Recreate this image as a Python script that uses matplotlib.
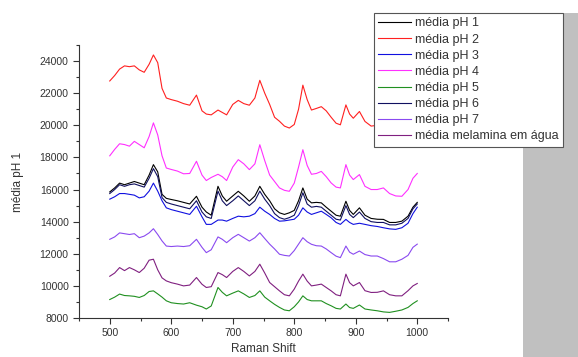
import matplotlib
matplotlib.use("Agg")
import matplotlib.pyplot as plt
from matplotlib.ticker import MultipleLocator
from matplotlib.patches import Rectangle

plt.rcParams['font.family'] = ['Liberation Sans', 'DejaVu Sans']

raman_shift = [500, 508, 516, 524, 532, 540, 548, 556, 564, 571, 578, 585, 592, 600, 610,
               620, 630, 641, 650, 657, 665, 676, 683, 690, 700, 709, 718, 727, 736, 744,
               752, 760, 768, 776, 784, 792, 800, 807, 814, 821, 828, 836, 844, 852, 860,
               868, 875, 884, 890, 896, 906, 915, 925, 935, 945, 955, 965, 975, 985, 993, 1000]

ph1 = [15850, 16100, 16400, 16300, 16400, 16500, 16400, 16300, 16900, 17550, 17100, 15700, 15450, 15380, 15300,
       15200, 15100, 15580, 14900, 14600, 14400, 16200, 15600, 15270, 15600, 15890, 15600, 15270, 15600, 16200,
       15700, 15300, 14800, 14550, 14450, 14550, 14700, 15300, 16100, 15400, 15170, 15200, 15170, 14900, 14650,
       14400, 14340, 15270, 14700, 14450, 14860, 14400, 14200, 14150, 14140, 13950, 13950, 14030, 14340, 14900, 15200]

ph2 = [22760, 23100, 23500, 23700, 23650, 23700, 23450, 23300, 23800, 24380, 23900, 22300, 21700, 21600, 21500,
       21350, 21250, 21880, 20900, 20700, 20650, 20950, 20800, 20650, 21300, 21550, 21350, 21250, 21700, 22800,
       22000, 21300, 20500, 20250, 19950, 19830, 20050, 21000, 22500, 21600, 20950, 21050, 21160, 20900, 20500,
       20130, 20030, 21270, 20700, 20440, 20860, 20240, 19950, 20000, 20100, 19900, 19850, 19950, 20200, 20500, 20700]

ph3 = [15400, 15550, 15750, 15750, 15700, 15650, 15480, 15550, 15900, 16400, 15900, 15300, 14860, 14750, 14650,
       14550, 14450, 14960, 14300, 13830, 13830, 14100, 14100, 14030, 14200, 14340, 14300, 14340, 14500, 14900,
       14650, 14450, 14200, 14030, 14050, 14100, 14150, 14400, 14860, 14600, 14450, 14550, 14650, 14450, 14240,
       13950, 13830, 14140, 13950, 13830, 13900, 13830, 13750, 13700, 13620, 13550, 13520, 13620, 13900, 14500, 14900]

ph4 = [18100, 18500, 18850, 18800, 18700, 19000, 18800, 18600, 19300, 20150, 19400, 18100, 17340, 17250, 17150,
       16980, 17000, 17760, 16900, 16560, 16750, 16950, 16800, 16560, 17400, 17860, 17600, 17240, 17600, 18790,
       17800, 16900, 16500, 16100, 15950, 15890, 16400, 17400, 18480, 17500, 16950, 17000, 17130, 16800, 16410,
       16150, 16100, 17550, 16900, 16620, 16930, 16200, 16000, 16000, 16100, 15750, 15600, 15580, 16000, 16700, 17000]

ph5 = [9150, 9300, 9490, 9400, 9380, 9350, 9280, 9400, 9650, 9690, 9500, 9300, 9070, 8950, 8900,
       8870, 8950, 8800, 8700, 8560, 8750, 9900, 9600, 9380, 9550, 9690, 9500, 9280, 9400, 9690,
       9300, 9070, 8850, 8660, 8500, 8450, 8700, 9000, 9380, 9150, 9070, 9070, 9070, 8900, 8760,
       8600, 8560, 8870, 8650, 8600, 8810, 8560, 8500, 8450, 8380, 8350, 8420, 8500, 8660, 8900, 9070]

ph6 = [15750, 16000, 16300, 16200, 16300, 16350, 16250, 16150, 16700, 17300, 16800, 15500, 15200, 15100, 15000,
       14900, 14800, 15300, 14600, 14300, 14200, 15900, 15300, 15000, 15300, 15600, 15300, 15000, 15300, 15900,
       15400, 15000, 14500, 14250, 14150, 14250, 14400, 15000, 15800, 15100, 14900, 14950, 14900, 14650, 14400,
       14150, 14100, 15000, 14450, 14250, 14600, 14200, 14000, 13950, 13950, 13800, 13800, 13900, 14200, 14800, 15100]

ph7 = [12900, 13050, 13300, 13250, 13200, 13250, 13000, 13100, 13300, 13560, 13200, 12800, 12480, 12450, 12480,
       12450, 12500, 12900, 12400, 12070, 12250, 13050, 12900, 12690, 13000, 13210, 13000, 12790, 13000, 13310,
       12950, 12600, 12300, 11970, 11900, 11860, 12200, 12600, 13000, 12750, 12590, 12500, 12480, 12300, 12070,
       11850, 11760, 12480, 12100, 11970, 12170, 11950, 11860, 11860, 11700, 11500, 11500, 11660, 11900, 12400, 12600]

melamina = [10600, 10800, 11140, 10950, 11140, 11000, 10830, 11100, 11600, 11660, 11000, 10500, 10310, 10200, 10110,
            10000, 10050, 10520, 10100, 9900, 9950, 10830, 10700, 10520, 10900, 11140, 10900, 10620, 10900, 11350,
            10800, 10210, 9950, 9690, 9450, 9380, 9800, 10300, 10730, 10300, 10000, 10050, 10110, 9900, 9690,
            9450, 9380, 10730, 10200, 10000, 10210, 9700, 9590, 9600, 9690, 9450, 9380, 9380, 9700, 10000, 10150]

series_labels = ['média pH 1', 'média pH 2', 'média pH 3', 'média pH 4',
                 'média pH 5', 'média pH 6', 'média pH 7', 'média melamina em água']
series_values = [ph1, ph2, ph3, ph4, ph5, ph6, ph7, melamina]
series_colors = ['#000000', '#ff2020', '#1010e0', '#ff30ff',
                 '#209020', '#101060', '#8a4af0', '#802080']

fig = plt.figure(figsize=(5.78, 3.57), dpi=100)
fig.patches.append(Rectangle((523 / 578, 0), 55 / 578, 344 / 357, transform=fig.transFigure,
                             facecolor='#c0c0c0', edgecolor='none', zorder=0))

ax = fig.add_axes([79 / 578, 39 / 357, 369 / 578, 273 / 357])
ax.set_facecolor('none')
handles = []
for vals, lab, col in zip(series_values, series_labels, series_colors):
    h, = ax.plot(raman_shift, vals, color=col, lw=0.8, label=lab)
    handles.append(h)

ax.set_xlim(450, 1050)
ax.set_ylim(8000, 25000)
ax.xaxis.set_major_locator(MultipleLocator(100))
ax.xaxis.set_minor_locator(MultipleLocator(50))
ax.yaxis.set_major_locator(MultipleLocator(2000))
ax.yaxis.set_minor_locator(MultipleLocator(1000))
for s in ['top', 'right']:
    ax.spines[s].set_visible(False)
for s in ['left', 'bottom']:
    ax.spines[s].set_color('#333333')
    ax.spines[s].set_linewidth(0.8)
ax.tick_params(which='major', direction='out', length=4, width=0.8, colors='#333333',
               labelsize=7.5, labelcolor='#333333')
ax.tick_params(which='minor', direction='out', length=2, width=0.8, colors='#333333')
ax.set_xlabel('Raman Shift', fontsize=8.5, color='#333333', labelpad=3)
ax.set_ylabel('média pH 1', fontsize=8.5, color='#333333', labelpad=11)

leg = fig.legend(handles=handles, loc='upper left', bbox_to_anchor=(374 / 578, 1 - 13 / 357),
                 bbox_transform=fig.transFigure, borderaxespad=0, fontsize=9.0,
                 frameon=True, fancybox=False, framealpha=1, edgecolor='#555555',
                 handlelength=2.6, handletextpad=0.35, labelspacing=0.33, borderpad=0.35)
leg.get_frame().set_linewidth(0.8)
for t in leg.get_texts():
    t.set_color('#333333')

fig.savefig('out.png', dpi=100)
